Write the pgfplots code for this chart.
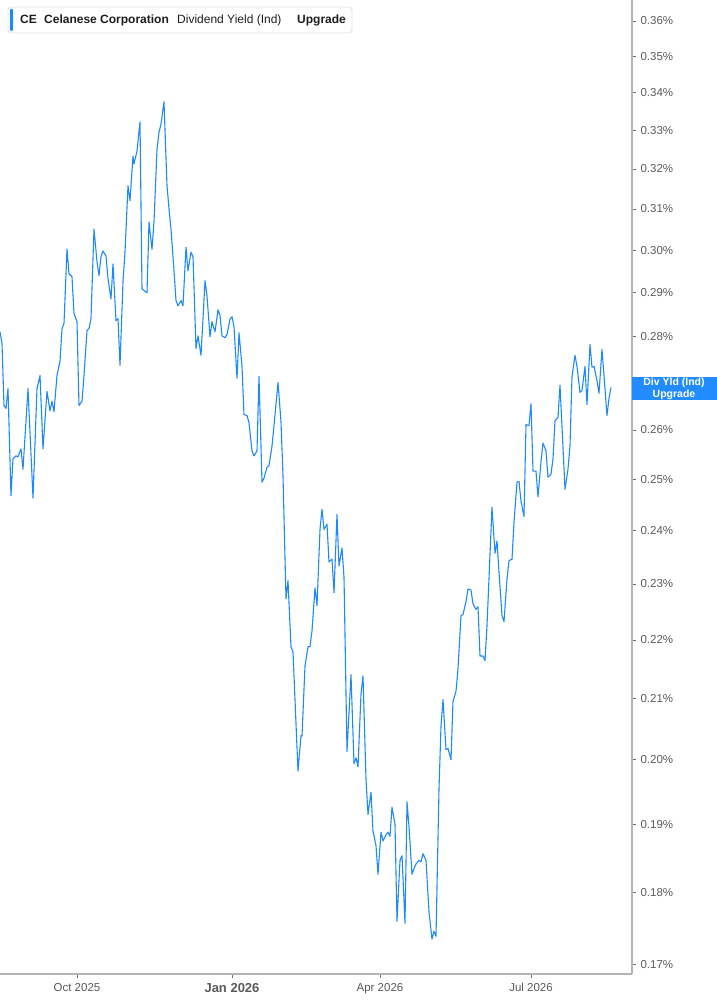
\documentclass[border=0pt]{standalone}
\usepackage{fontspec}
\setmainfont{Liberation Sans}
\usepackage{pgfplots}
\pgfplotsset{compat=1.18}

\definecolor{lineblue}{RGB}{30,136,255}
\definecolor{tagblue}{RGB}{33,139,255}
\definecolor{axisgrey}{RGB}{180,180,180}
\definecolor{labelgrey}{RGB}{90,90,90}
\definecolor{textdark}{RGB}{30,30,30}

\begin{document}
\begin{tikzpicture}
\useasboundingbox (0pt,0pt) rectangle (717pt,1005pt);
\begin{axis}[
    at={(0pt,31pt)}, anchor=south west,
    scale only axis, width=632pt, height=974pt,
    xmin=0, xmax=632,
    ymode=log, ymin=0.16866, ymax=0.36607,
    axis x line*=bottom, axis y line*=right,
    axis line style={draw=axisgrey, line width=1.5pt, -},
    tick align=outside, xtick pos=bottom, ytick pos=right,
    major tick length=4pt,
    tick style={draw=axisgrey!60!black, line width=0.8pt},
    minor tick num=0,
    xtick={77,232,380,531},
    xticklabels={Oct 2025,{\fontsize{13pt}{15pt}\selectfont\bfseries Jan 2026},Apr 2026,Jul 2026},
    ytick={0.17,0.18,0.19,0.20,0.21,0.22,0.23,0.24,0.25,0.26,0.27,0.28,0.29,0.30,0.31,0.32,0.33,0.34,0.35,0.36},
    % the 0.27% label sits under the last-value tag, as in the reference
    yticklabels={0.17\%,0.18\%,0.19\%,0.20\%,0.21\%,0.22\%,0.23\%,0.24\%,0.25\%,0.26\%,{},0.28\%,0.29\%,0.30\%,0.31\%,0.32\%,0.33\%,0.34\%,0.35\%,0.36\%},
    ticklabel style={font=\fontsize{11.5pt}{13pt}\selectfont, text=labelgrey},
    yticklabel style={anchor=west, xshift=1pt},
    xticklabel style={yshift=-2pt},
    /pgf/number format/assume math mode=true,
]
\addplot[lineblue, line width=1.1pt, line join=round] coordinates {
(0,0.2811) (2,0.2785) (4,0.2651) (6,0.2645) (8,0.2687) (11,0.2467) (13,0.2541) (16,0.2547)
(18,0.2545) (21,0.2561) (23,0.2520) (28,0.2687) (33,0.2463) (37,0.2687) (40,0.2715) (43,0.2561)
(47,0.2681) (50,0.2640) (52,0.2660) (54,0.2638) (57,0.2715) (60,0.2746) (62,0.2818) (64,0.2830)
(67,0.3002) (69,0.2944) (72,0.2937) (74,0.2852) (77,0.2834) (79,0.2651) (82,0.2660) (84,0.2715)
(87,0.2814) (89,0.2818) (91,0.2841) (94,0.3051) (97,0.2972) (99,0.2940) (101,0.2984) (103,0.2998)
(106,0.2986) (108,0.2933) (111,0.2886) (113,0.2967) (116,0.2836) (118,0.2841) (120,0.2737) (123,0.2926)
(125,0.2995) (128,0.3158) (130,0.3120) (133,0.3233) (134,0.3213) (137,0.3246) (140,0.3322) (142,0.2909)
(144,0.2905) (147,0.2900) (149,0.3068) (152,0.3002) (154,0.3068) (157,0.3251) (159,0.3295) (161,0.3316)
(164,0.3376) (167,0.3158) (169,0.3100) (171,0.3051) (174,0.2951) (176,0.2882) (178,0.2870) (181,0.2882)
(183,0.2870) (186,0.3007) (188,0.2951) (191,0.2995) (193,0.2984) (196,0.2774) (198,0.2802) (201,0.2759)
(203,0.2841) (205,0.2928) (207,0.2893) (210,0.2800) (212,0.2834) (215,0.2811) (218,0.2861) (220,0.2848)
(222,0.2802) (225,0.2798) (227,0.2805) (230,0.2839) (232,0.2845) (234,0.2823) (237,0.2709) (239,0.2809)
(242,0.2735) (244,0.2632) (247,0.2630) (249,0.2615) (252,0.2557) (254,0.2547) (257,0.2557) (259,0.2713)
(262,0.2494) (264,0.2502) (267,0.2524) (269,0.2527) (272,0.2567) (274,0.2609) (278,0.2700) (281,0.2617)
(283,0.2506) (286,0.2273) (288,0.2306) (291,0.2188) (293,0.2179) (298,0.1982) (301,0.2039) (302,0.2038)
(305,0.2155) (308,0.2188) (310,0.2188) (312,0.2216) (315,0.2293) (317,0.2261) (320,0.2402) (322,0.2441)
(324,0.2402) (327,0.2412) (329,0.2341) (332,0.2346) (334,0.2284) (337,0.2431) (339,0.2333) (342,0.2367)
(344,0.2313) (347,0.2013) (351,0.2140) (354,0.1994) (356,0.2003) (358,0.1989) (361,0.2107) (363,0.2138)
(366,0.1969) (368,0.1915) (371,0.1949) (373,0.1890) (376,0.1868) (378,0.1826) (381,0.1888) (383,0.1875)
(386,0.1884) (388,0.1888) (390,0.1882) (392,0.1926) (395,0.1900) (397,0.1759) (400,0.1846) (402,0.1853)
(405,0.1756) (407,0.1934) (409,0.1897) (412,0.1826) (414,0.1834) (416,0.1841) (419,0.1846) (421,0.1844)
(423,0.1856) (426,0.1846) (429,0.1772) (432,0.1734) (434,0.1745) (436,0.1738) (439,0.1954) (441,0.2054)
(443,0.2098) (446,0.2016) (448,0.2018) (451,0.2000) (453,0.2095) (456,0.2112) (458,0.2150) (461,0.2243)
(463,0.2245) (466,0.2268) (468,0.2291) (471,0.2289) (473,0.2264) (476,0.2254) (478,0.2259) (480,0.2172)
(483,0.2172) (485,0.2164) (487,0.2225) (492,0.2445) (495,0.2357) (497,0.2380) (499,0.2322) (502,0.2243)
(504,0.2232) (507,0.2309) (509,0.2343) (512,0.2346) (514,0.2416) (517,0.2494) (519,0.2496) (521,0.2457)
(524,0.2427) (526,0.2611) (529,0.2609) (531,0.2655) (533,0.2516) (536,0.2516) (538,0.2465) (541,0.2535)
(543,0.2573) (546,0.2557) (548,0.2504) (551,0.2510) (553,0.2541) (555,0.2619) (558,0.2626) (560,0.2694)
(565,0.2480) (568,0.2520) (570,0.2567) (572,0.2713) (575,0.2759) (577,0.2735) (580,0.2679) (582,0.2683)
(585,0.2735) (587,0.2653) (590,0.2783) (592,0.2733) (594,0.2735) (597,0.2704) (599,0.2677) (602,0.2772)
(604,0.2715) (607,0.2630) (609,0.2666) (611,0.2689)
};
\end{axis}
% header box
\draw[draw=black!12, fill=white, rounded corners=3pt, line width=0.8pt] (8pt,998pt) rectangle (352pt,972pt);
\fill[lineblue, rounded corners=1pt] (10pt,996pt) rectangle (13pt,974pt);
\begin{scope}[every node/.style={anchor=base west, inner sep=0pt, text=textdark, font=\fontsize{12pt}{14pt}\selectfont}]
\node at (20pt,981pt) {\bfseries CE};
\node at (44pt,981pt) {\bfseries Celanese Corporation};
\node at (177pt,981pt) {Dividend Yield (Ind)};
\node at (297pt,981pt) {\bfseries Upgrade};
\end{scope}
% last value tag
\fill[tagblue] (632pt,628pt) rectangle (717pt,605pt);
\node[text=white, font=\fontsize{10.5pt}{11.7pt}\selectfont\bfseries, align=center, inner sep=0pt] at (674pt,616.5pt) {Div Yld (Ind)\\Upgrade};
\end{tikzpicture}
\end{document}
